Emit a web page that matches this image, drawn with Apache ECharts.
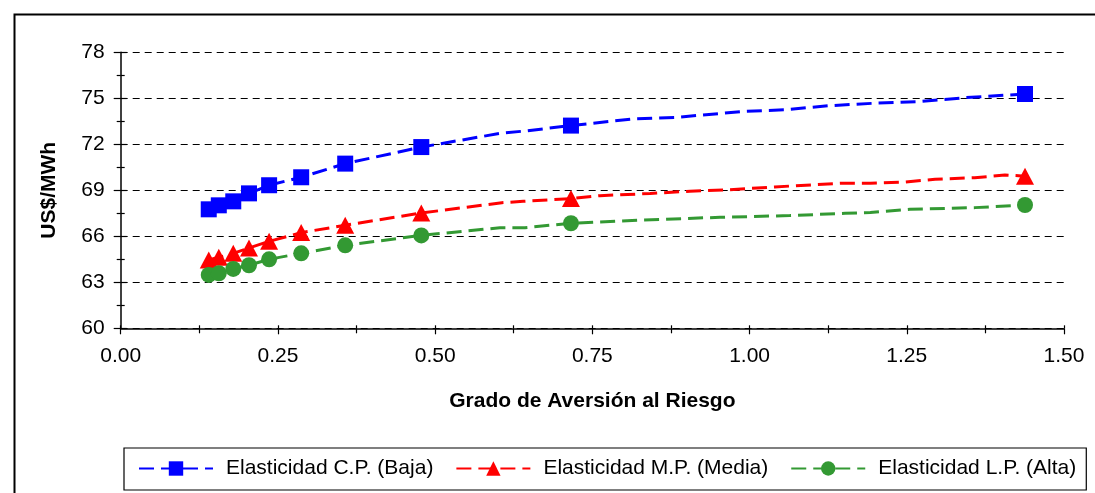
<!DOCTYPE html>
<html>
<head>
<meta charset="utf-8">
<script src="https://cdn.jsdelivr.net/npm/echarts@6/dist/echarts.min.js"></script>
<style>
html,body{margin:0;padding:0;background:#fff;}
#chart{width:1095px;height:493px;}
</style>
</head>
<body>
<div id="chart"></div>
<script>
// Marked points (x = grado de aversión al riesgo)
const markerX = [0.140, 0.156, 0.179, 0.204, 0.236, 0.287, 0.357, 0.478, 0.716, 1.438];
const bajaY   = [67.76, 68.02, 68.28, 68.80, 69.33, 69.85, 70.74, 71.82, 73.22, 75.28];
const mediaY  = [64.45, 64.63, 64.89, 65.24, 65.67, 66.24, 66.72, 67.52, 68.46, 69.92];
const altaY   = [63.48, 63.59, 63.87, 64.11, 64.50, 64.89, 65.41, 66.06, 66.85, 68.04];

// Intermediate (unmarked) points of each dashed line
const bajaLineX  = [0.603, 0.643, 0.813, 0.882, 0.918, 0.993, 1.056, 1.127, 1.199, 1.268, 1.306, 1.342, 1.406];
const bajaLineY  = [72.71, 72.87, 73.65, 73.75, 73.89, 74.15, 74.25, 74.52, 74.68, 74.78, 74.91, 75.04, 75.20];
const mediaLineX = [0.606, 0.640, 0.762, 0.842, 0.905, 0.969, 1.040, 1.144, 1.192, 1.247, 1.295, 1.358, 1.406];
const mediaLineY = [68.19, 68.28, 68.65, 68.79, 68.94, 69.04, 69.22, 69.46, 69.46, 69.54, 69.72, 69.82, 70.00];
const altaLineX  = [0.603, 0.643, 0.826, 0.953, 1.064, 1.152, 1.192, 1.255, 1.358];
const altaLineY  = [66.56, 66.56, 67.06, 67.24, 67.35, 67.50, 67.55, 67.76, 67.87];

const seriesNames = ['Elasticidad C.P. (Baja)', 'Elasticidad M.P. (Media)', 'Elasticidad L.P. (Alta)'];
const xTicks = {min: 0, max: 1.5, interval: 0.25};
const yTicks = {min: 60, max: 78, interval: 3};

function buildData(mx, my, lx, ly) {
  const pts = [];
  mx.forEach((x, i) => pts.push({value: [x, my[i]]}));
  lx.forEach((x, i) => pts.push({value: [x, ly[i]], symbol: 'none'}));
  pts.sort((a, b) => a.value[0] - b.value[0]);
  return pts;
}

const FONT = 'Liberation Sans, Arial, sans-serif';
const chart = echarts.init(document.getElementById('chart'), null, {renderer: 'canvas'});

function mkSeries(name, color, symbol, size, data) {
  return {
    name: name, type: 'line', data: data,
    symbol: symbol, symbolSize: size, showSymbol: true,
    xAxisIndex: 0, yAxisIndex: 0,
    itemStyle: {color: color},
    lineStyle: {color: color, width: 3, type: [15, 7]},
    emphasis: {disabled: true},
    animation: false, clip: false
  };
}

const xBase = {
  type: 'value', min: xTicks.min, max: xTicks.max, interval: xTicks.interval,
  splitLine: {show: false}
};
const yBase = {
  type: 'value', min: yTicks.min, max: yTicks.max, interval: yTicks.interval,
  position: 'left'
};

chart.setOption({
  backgroundColor: '#fff',
  animation: false,
  grid: {left: 120.7, right: 31, top: 52.3, bottom: 164.7, containLabel: false},
  xAxis: [
    Object.assign({}, xBase, {
      position: 'bottom',
      name: 'Grado de Aversión al Riesgo', nameLocation: 'middle', nameGap: 62,
      nameTextStyle: {fontFamily: FONT, fontSize: 21, fontWeight: 'bold', color: '#000'},
      axisLine: {show: true, lineStyle: {color: '#000', width: 1.5}},
      axisTick: {show: true, inside: false, length: 6, lineStyle: {color: '#000', width: 1.2}},
      minorTick: {show: true, splitNumber: 2, length: 5, lineStyle: {color: '#000', width: 1.2}},
      axisLabel: {margin: 17, fontFamily: FONT, fontSize: 21, color: '#000',
        formatter: v => v.toFixed(2)}
    }),
    Object.assign({}, xBase, {
      position: 'bottom',
      axisLine: {show: false},
      axisTick: {show: true, inside: true, length: 3, lineStyle: {color: '#000', width: 1.2}},
      minorTick: {show: true, splitNumber: 2, length: 3, lineStyle: {color: '#000', width: 1.2}},
      axisLabel: {show: false}
    })
  ],
  yAxis: [
    Object.assign({}, yBase, {
      name: 'US$/MWh', nameLocation: 'middle', nameGap: 61,
      nameTextStyle: {fontFamily: FONT, fontSize: 21, fontWeight: 'bold', color: '#000'},
      axisLine: {show: true, lineStyle: {color: '#000', width: 1.5}},
      axisTick: {show: true, inside: false, length: 7, lineStyle: {color: '#000', width: 1.2}},
      minorTick: {show: true, splitNumber: 2, length: 4, lineStyle: {color: '#000', width: 1.2}},
      splitLine: {show: true, lineStyle: {color: '#000', width: 1, type: [7, 5]}},
      axisLabel: {margin: 16, fontFamily: FONT, fontSize: 21, color: '#000'}
    }),
    Object.assign({}, yBase, {
      axisLine: {show: false},
      axisTick: {show: true, inside: true, length: 6, lineStyle: {color: '#000', width: 1.2}},
      minorTick: {show: true, splitNumber: 2, length: 4, lineStyle: {color: '#000', width: 1.2}},
      splitLine: {show: false},
      axisLabel: {show: false}
    })
  ],
  legend: {
    show: true, left: 124, top: 448,
    orient: 'horizontal',
    padding: [10, 10, 11, 14],
    itemGap: 22, itemWidth: 74, itemHeight: 18,
    borderColor: '#000', borderWidth: 1.2, backgroundColor: '#fff',
    textStyle: {fontFamily: FONT, fontSize: 21, color: '#000', padding: [0, 0, 0, 8]},
    data: seriesNames
  },
  graphic: [{
    type: 'rect', left: 12, top: 12, silent: true, z: -1,
    shape: {width: 1100, height: 500},
    style: {fill: 'none', stroke: '#000', lineWidth: 2}
  }],
  series: [
    mkSeries(seriesNames[0], '#0000FF', 'rect', 16, buildData(markerX, bajaY, bajaLineX, bajaLineY)),
    mkSeries(seriesNames[1], '#FF0000', 'triangle', [18, 17], buildData(markerX, mediaY, mediaLineX, mediaLineY)),
    mkSeries(seriesNames[2], '#339933', 'circle', 16, buildData(markerX, altaY, altaLineX, altaLineY))
  ]
});
</script>
</body>
</html>
